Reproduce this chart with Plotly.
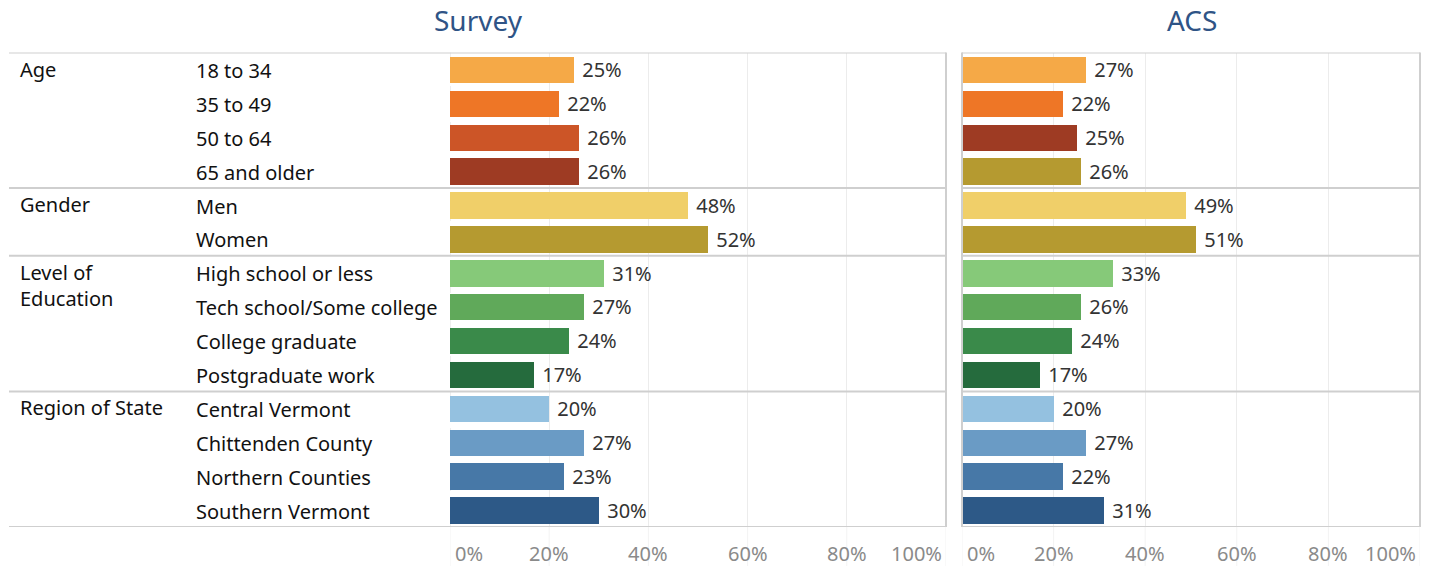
import plotly.graph_objects as go

W, H = 1434, 566

groups = ["Age", "Gender", "Level of<br>Education", "Region of State"]
group_sizes = [4, 2, 4, 4]
categories = ["18 to 34", "35 to 49", "50 to 64", "65 and older",
              "Men", "Women",
              "High school or less", "Tech school/Some college", "College graduate", "Postgraduate work",
              "Central Vermont", "Chittenden County", "Northern Counties", "Southern Vermont"]
survey_values = [25, 22, 26, 26, 48, 52, 31, 27, 24, 17, 20, 27, 23, 30]
acs_values = [27, 22, 25, 26, 49, 51, 33, 26, 24, 17, 20, 27, 22, 31]
survey_colors = ["#f5a947", "#ee7626", "#cc5527", "#9e3b23", "#f0cf69", "#b59a30",
                 "#86c979", "#60a95a", "#3a8a4a", "#256b3d",
                 "#94c1e0", "#6a9bc5", "#4778a7", "#2d5987"]
acs_colors = ["#f5a947", "#ee7626", "#9e3b23", "#b59a30", "#f0cf69", "#b59a30",
              "#86c979", "#60a95a", "#3a8a4a", "#256b3d",
              "#94c1e0", "#6a9bc5", "#4778a7", "#2d5987"]
tick_vals = [0, 20, 40, 60, 80, 100]
tick_text = ["0%", "20%", "40%", "60%", "80%", "100%"]

FONT = "Noto Sans"
TXT = "#333333"
GRID = "#ececec"
BORDER = "#cfcfcf"
LABEL_SIZE = 20


def px(x):
    return x / W


def py(y):
    return 1 - y / H


rows = list(range(len(categories)))

fig = go.Figure()
for vals, cols, xa, ya in [(survey_values, survey_colors, "x", "y"),
                           (acs_values, acs_colors, "x2", "y2")]:
    fig.add_trace(go.Bar(
        x=vals, y=rows, orientation="h", xaxis=xa, yaxis=ya,
        marker=dict(color=cols, line=dict(width=0)), width=0.78,
        text=[f"\u00a0{v}%" for v in vals], textposition="outside",
        textfont=dict(family=FONT, size=LABEL_SIZE, color=TXT),
        cliponaxis=False, constraintext="none", hoverinfo="skip",
        showlegend=False,
    ))

ydom = [py(527), py(52.5)]
axis_common = dict(range=[0, 100], tickvals=tick_vals, showticklabels=False,
                   showgrid=True, gridcolor=GRID, gridwidth=1, zeroline=False,
                   fixedrange=True)
fig.update_layout(
    width=W, height=H,
    margin=dict(l=0, r=0, t=0, b=0),
    paper_bgcolor="white", plot_bgcolor="white",
    bargap=0,
    xaxis=dict(domain=[px(450), px(946)], anchor="y", **axis_common),
    xaxis2=dict(domain=[px(962), px(1420)], anchor="y2", **axis_common),
    yaxis=dict(domain=ydom, range=[13.5, -0.5], showticklabels=False,
               showgrid=False, zeroline=False, fixedrange=True, anchor="x"),
    yaxis2=dict(domain=ydom, range=[13.5, -0.5], showticklabels=False,
                showgrid=False, zeroline=False, fixedrange=True, anchor="x2"),
)

shapes = []
# zero lines
for xr in ["x", "x2"]:
    shapes.append(dict(type="line", xref=xr, yref="paper", x0=0, x1=0,
                       y0=ydom[0], y1=ydom[1], line=dict(color="#dedede", width=1, dash="dash"), layer="below"))
# horizontal separators
bounds = [-0.5]
acc = -0.5
for s in group_sizes:
    acc += s
    bounds.append(acc)
for b in bounds:
    shapes.append(dict(type="line", xref="paper", yref="y", x0=px(9), x1=px(946),
                       y0=b, y1=b, line=dict(color=BORDER, width=2)))
    shapes.append(dict(type="line", xref="paper", yref="y", x0=px(962), x1=px(1420),
                       y0=b, y1=b, line=dict(color=BORDER, width=2)))
# vertical borders
for xx in [946, 962, 1420]:
    shapes.append(dict(type="line", xref="paper", yref="paper", x0=px(xx), x1=px(xx),
                       y0=ydom[0], y1=ydom[1], line=dict(color=BORDER, width=2)))
# tick extension below the panels
for xr in ["x", "x2"]:
    for t in tick_vals:
        shapes.append(dict(type="line", xref=xr, yref="paper", x0=t, x1=t,
                           y0=py(566), y1=ydom[0], line=dict(color="#f3f3f3", width=1), layer="below"))
fig.update_layout(shapes=shapes)

ann = []
# titles
ann.append(dict(text="Survey", x=px(478), y=py(20), xref="paper", yref="paper",
                xanchor="center", yanchor="middle",
                showarrow=False, font=dict(family=FONT, size=28, color="#2f5486")))
ann.append(dict(text="ACS", x=px(1192), y=py(20), xref="paper", yref="paper",
                xanchor="center", yanchor="middle",
                showarrow=False, font=dict(family=FONT, size=28, color="#2f5486")))
# group labels
start = 0
for g, s in zip(groups, group_sizes):
    ann.append(dict(text=g, x=px(18), y=start - 0.5, xref="paper", yref="y",
                    xanchor="left", yanchor="top", yshift=-1, align="left", showarrow=False,
                    font=dict(family=FONT, size=LABEL_SIZE, color="#111111")))
    start += s
# category labels
for i, c in enumerate(categories):
    ann.append(dict(text=c, x=px(194), y=i, xref="paper", yref="y",
                    xanchor="left", yanchor="middle", yshift=-1, showarrow=False,
                    font=dict(family=FONT, size=LABEL_SIZE, color="#111111")))
# axis tick labels
for xr in ["x", "x2"]:
    for t, lab in zip(tick_vals, tick_text):
        if t == 0:
            xa, sh = "left", 3
        elif t == 100:
            xa, sh = "right", -2
        else:
            xa, sh = "center", 0
        ann.append(dict(text=lab, x=t, y=py(553), xref=xr, yref="paper",
                        xanchor=xa, xshift=sh, yanchor="middle", showarrow=False,
                        font=dict(family=FONT, size=LABEL_SIZE, color="#8a8a8a")))
fig.update_layout(annotations=ann)

fig.write_html("out.html", config={"displayModeBar": False},
               post_script="document.body.style.margin='0';document.body.style.padding='0';document.body.style.overflow='hidden';")
